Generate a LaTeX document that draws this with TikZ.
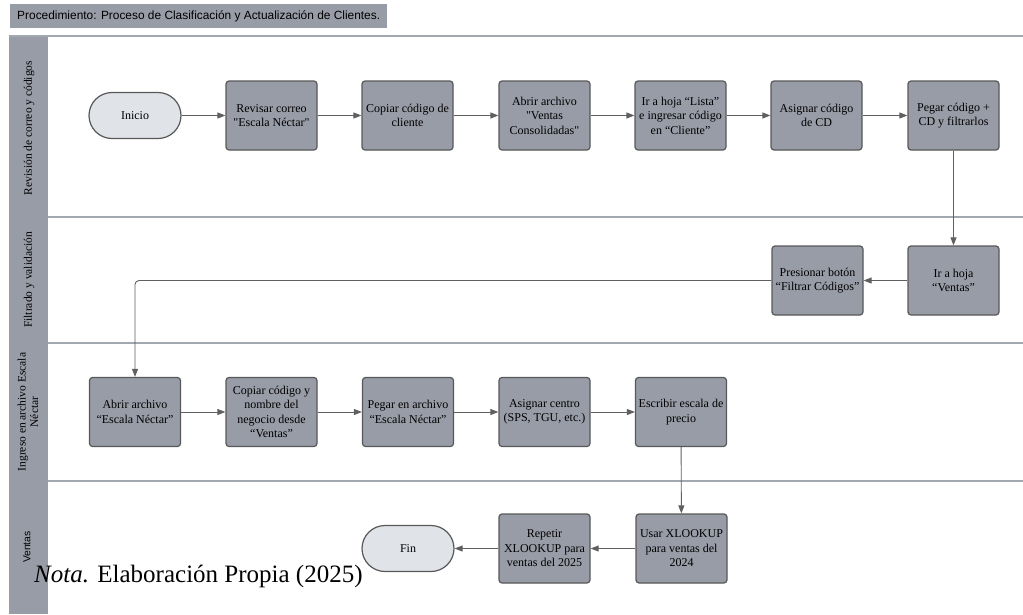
\documentclass[tikz,border=0pt]{standalone}
\usepackage{fontspec}
\setmainfont{Liberation Serif}
\newfontfamily\arialfont{Liberation Sans}
\usetikzlibrary{arrows.meta}

\definecolor{boxfill}{HTML}{989CA6}
\definecolor{boxline}{HTML}{585858}
\definecolor{termfill}{HTML}{E0E3E8}
\definecolor{headfill}{HTML}{989CA6}
\definecolor{laneline}{HTML}{A3A7AF}
\definecolor{flowline}{HTML}{606060}

\newcommand{\dq}{\textquotedbl}

\tikzset{
  stepbox/.style={draw=boxline, line width=1.2pt, fill=boxfill, rounded corners=3pt,
    minimum width=91pt, minimum height=69pt, inner sep=1pt, align=center,
    font=\fontsize{12}{14.5}\selectfont, text=black},
  terminal/.style={draw=boxline, line width=1.2pt, fill=termfill, rounded corners=23pt,
    minimum width=92pt, minimum height=46pt, inner sep=1pt, align=center,
    font=\fontsize{12}{14.5}\selectfont},
  flow/.style={draw=flowline, line width=0.9pt, -{Triangle[length=8pt,width=6pt]}},
  lanelabel/.style={rotate=90, align=center, font=\fontsize{11.5}{12.5}\selectfont, inner sep=0pt},
  sep/.style={draw=laneline, line width=1.6pt}
}

\begin{document}
\begin{tikzpicture}[x=1pt, y=-1pt]
\useasboundingbox (0,0) rectangle (1023,614);
\fill[white] (0,0) rectangle (1023,614);

% title strip
\node[fill=headfill, minimum width=377pt, minimum height=24pt, anchor=north west, inner sep=0pt,
  font=\arialfont\fontsize{11.9}{13}\selectfont] (title) at (10,4)
  {Procedimiento: Proceso de Clasificación y Actualización de Clientes.};

% lane header column
\fill[headfill] (9,36) rectangle (48,614);

% pool top and lane separators
\draw[sep] (9,36) -- (1023,36);
\draw[sep] (48,217) -- (1023,217);
\draw[sep] (48,343) -- (1023,343);
\draw[sep] (48,481) -- (1023,481);

% lane titles
\node[lanelabel] (l1) at (29,128) {Revisión de correo y códigos};
\node[lanelabel] (l2) at (29,280) {Filtrado y validación};
\node[lanelabel] (l3) at (28,412) {Ingreso en archivo Escala\\Néctar};
\node[lanelabel, font=\arialfont\fontsize{10.3}{11}\selectfont] (l4) at (27,547) {Ventas};

% lane 1
\node[terminal] (inicio) at (135,115.5) {Inicio};
\node[stepbox] (a1) at (271.5,115.5) {Revisar correo\\\dq Escala Néctar\dq};
\node[stepbox] (a2) at (407.5,115.5) {Copiar código de\\cliente};
\node[stepbox] (a3) at (544.5,115.5) {Abrir archivo\\\dq Ventas\\Consolidadas\dq};
\node[stepbox] (a4) at (680.5,115.5) {Ir a hoja “Lista”\\e ingresar código\\en “Cliente”};
\node[stepbox] (a5) at (816.5,115.5) {Asignar código\\de CD};
\node[stepbox] (a6) at (953.5,115.5) {Pegar código +\\CD y filtrarlos};

% lane 2
\node[stepbox] (b1) at (953.5,280.5) {Ir a hoja\\“Ventas”};
\node[stepbox] (b2) at (817.5,280.5) {Presionar botón\\“Filtrar Códigos”};

% lane 3
\node[stepbox] (c1) at (135,412) {Abrir archivo\\“Escala Néctar”};
\node[stepbox] (c2) at (271.5,412) {Copiar código y\\nombre del\\negocio desde\\“Ventas”};
\node[stepbox] (c3) at (408,412) {Pegar en archivo\\“Escala Néctar”};
\node[stepbox] (c4) at (544.5,412) {Asignar centro\\(SPS, TGU, etc.)};
\node[stepbox] (c5) at (681,412) {Escribir escala de\\precio};

% lane 4
\node[stepbox] (d1) at (681.5,548.5) {Usar XLOOKUP\\para ventas del\\2024};
\node[stepbox] (d2) at (544.5,548.5) {Repetir\\XLOOKUP para\\ventas del 2025};
\node[terminal] (fin) at (408,548.5) {Fin};

% connectors
\draw[flow] (inicio) -- (a1);
\draw[flow] (a1) -- (a2);
\draw[flow] (a2) -- (a3);
\draw[flow] (a3) -- (a4);
\draw[flow] (a4) -- (a5);
\draw[flow] (a5) -- (a6);
\draw[flow] (a6) -- (b1);
\draw[flow] (b1) -- (b2);
\draw[flow, rounded corners=4pt] (b2.west) -| (c1.north);
\draw[flow] (c1) -- (c2);
\draw[flow] (c2) -- (c3);
\draw[flow] (c3) -- (c4);
\draw[flow] (c4) -- (c5);
\draw[flow] (c5) -- (d1);
\draw[flow] (d1) -- (d2);
\draw[flow] (d2) -- (fin);

% source note, set over the lower lane
\node[anchor=base west, inner sep=0pt, font=\fontsize{25}{28}\selectfont] (nota) at (34,582)
  {\textit{Nota.} Elaboración Propia (2025)};
\end{tikzpicture}
\end{document}
